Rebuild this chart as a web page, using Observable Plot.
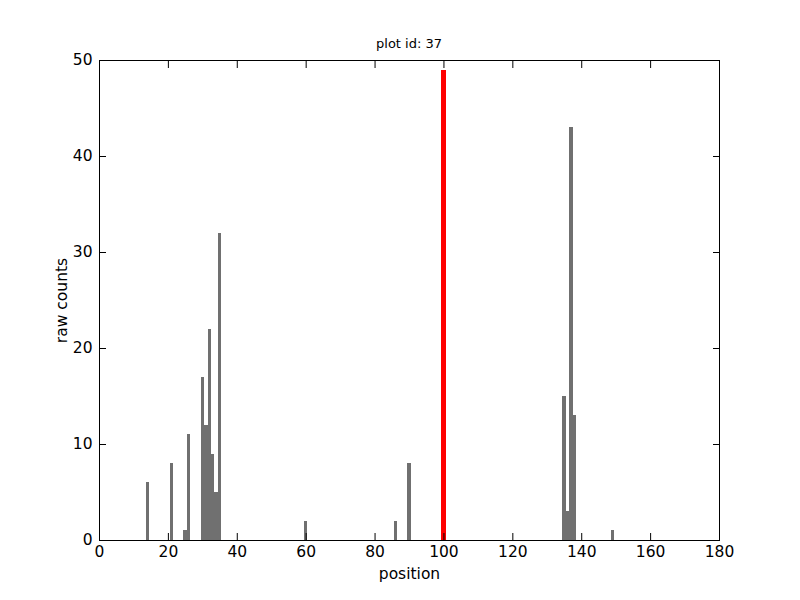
<!DOCTYPE html>
<html>
<head>
<meta charset="utf-8">
<script src="https://cdn.jsdelivr.net/npm/d3@7"></script>
<script src="https://cdn.jsdelivr.net/npm/@observablehq/plot@0.6"></script>
<style>
  html, body { margin: 0; padding: 0; background: #fff; }
  #chart { position: relative; width: 800px; height: 600px; }
  #title { position: absolute; left: 99px; width: 620px; top: 36px; text-align: center; font: 13px "DejaVu Sans", sans-serif; }
</style>
</head>
<body>
<div id="chart"><div id="title">plot id: 37</div></div>
<script>
const positions = [14, 21, 25, 26, 30, 31, 32, 33, 34, 35, 60, 86, 90, 135, 136, 137, 138, 149];
const counts    = [6, 8, 1, 11, 17, 12, 22, 9, 5, 32, 2, 2, 8, 15, 3, 43, 13, 1];
const markerPositions = [100];
const markerCounts = [49];
const xTicks = [0, 20, 40, 60, 80, 100, 120, 140, 160, 180];
const yTicks = [0, 10, 20, 30, 40, 50];

const bars = positions.map((p, i) => ({x1: p - 0.5, x2: p + 0.5, y: counts[i]}));
const markers = markerPositions.map((p, i) => ({x1: p - 0.6, x2: p + 0.6, y: markerCounts[i]}));

const plot = Plot.plot({
  width: 800,
  height: 600,
  marginLeft: 99,
  marginRight: 81,
  marginTop: 60,
  marginBottom: 60,
  style: {fontFamily: "DejaVu Sans, sans-serif", fontSize: "15.5px", background: "transparent", overflow: "visible"},
  x: {domain: [0, 180]},
  y: {domain: [0, 50]},
  marks: [
    Plot.rectY(bars, {x1: "x1", x2: "x2", y1: 0, y2: "y", fill: "#707070", shapeRendering: "crispEdges"}),
    Plot.rectY(markers, {x1: "x1", x2: "x2", y1: 0, y2: "y", fill: "#ff0000", shapeRendering: "crispEdges"}),
    Plot.frame({stroke: "black", strokeWidth: 1, shapeRendering: "crispEdges"}),
    Plot.axisX({anchor: "bottom", ticks: xTicks, tickSize: 0, tickPadding: 5, fontSize: 15.5, label: "position", labelAnchor: "center", labelArrow: "none", labelOffset: 38, color: "black"}),
    Plot.axisX({anchor: "bottom", ticks: xTicks, tickSize: -7, tickFormat: () => "", label: null}),
    Plot.axisX({anchor: "top", ticks: xTicks, tickSize: -7, tickFormat: () => "", label: null}),
    Plot.axisY({anchor: "left", ticks: yTicks, tickSize: 0, tickPadding: 7, fontSize: 15.5, label: "raw counts", labelAnchor: "center", labelArrow: "none", labelOffset: 44, color: "black"}),
    Plot.axisY({anchor: "left", ticks: yTicks, tickSize: -7, tickFormat: () => "", label: null}),
    Plot.axisY({anchor: "right", ticks: yTicks, tickSize: -7, tickFormat: () => "", label: null})
  ]
});
document.getElementById("chart").appendChild(plot);
</script>
</body>
</html>
